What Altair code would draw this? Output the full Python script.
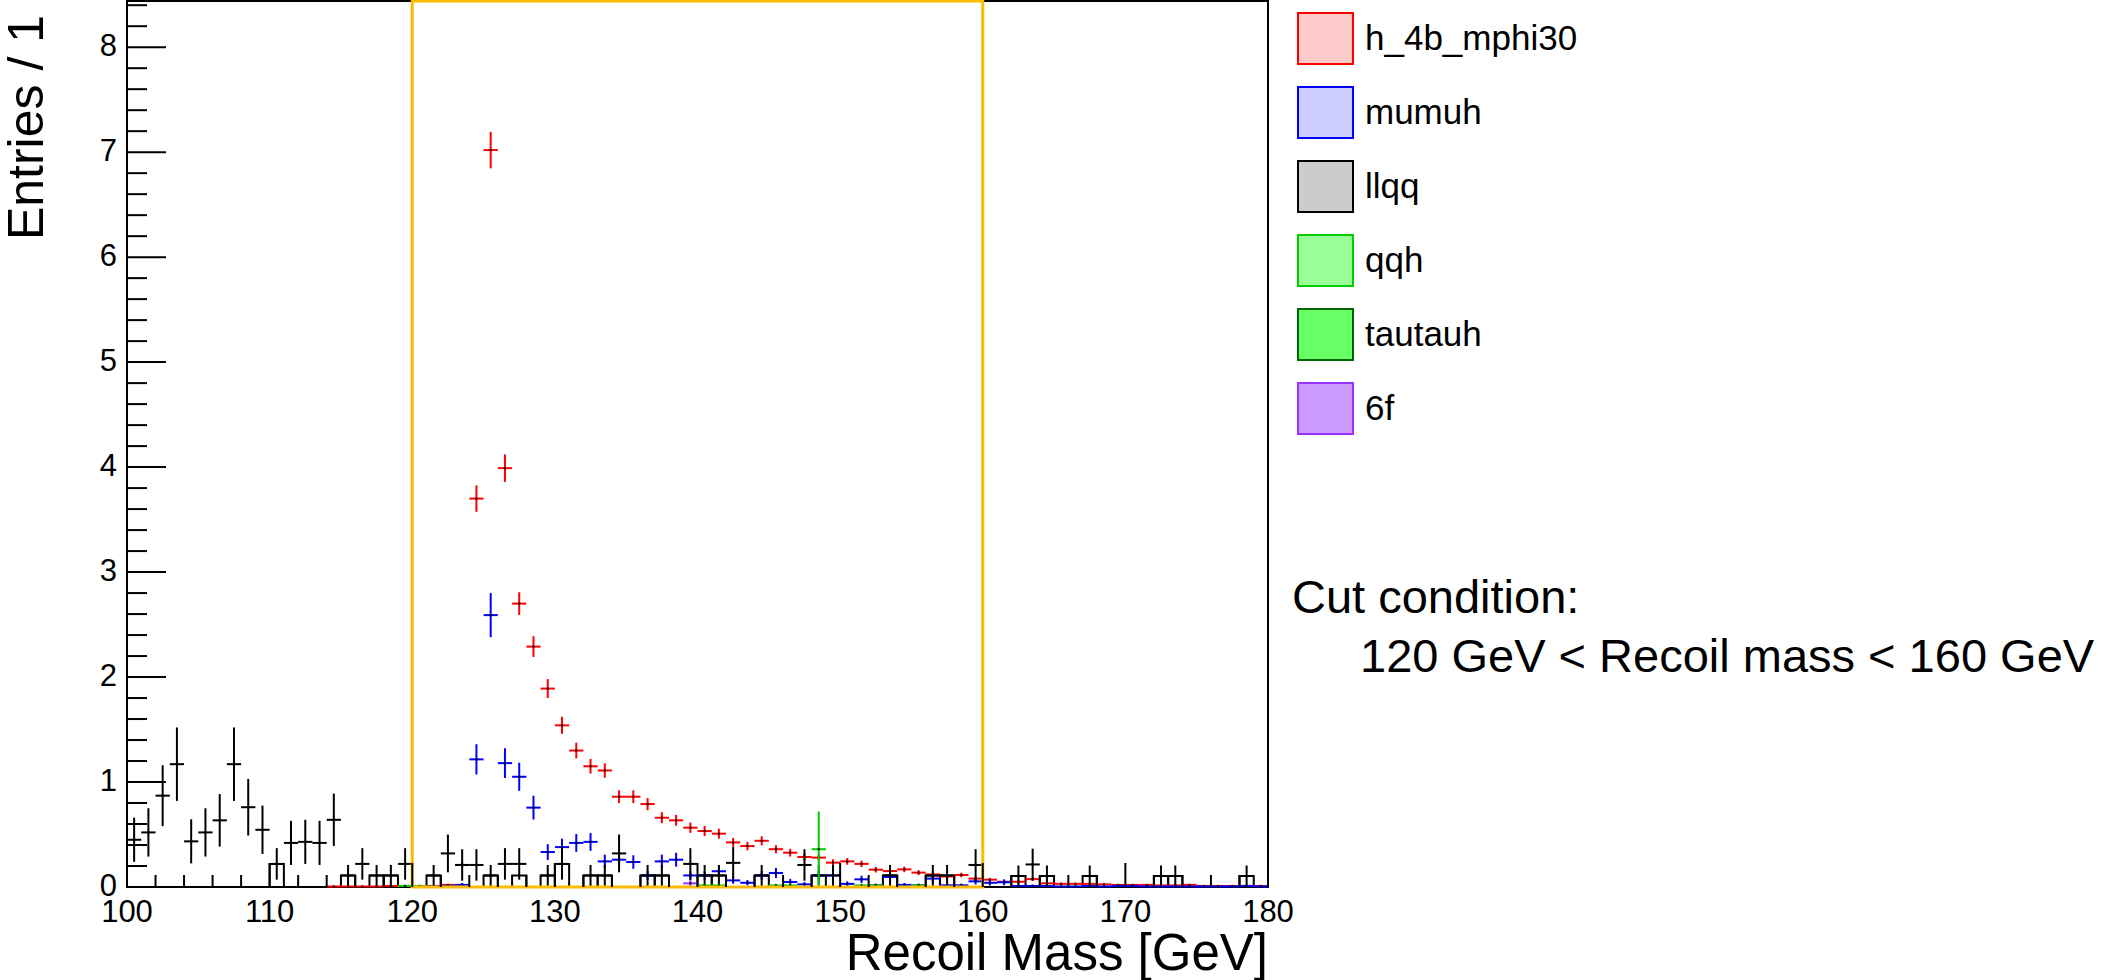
import altair as alt
import pandas as pd

# ---- binning: 1 GeV bins from 100 to 180 GeV ----
bin_low = list(range(100, 180))

# ---- per-bin contents (weighted entries) and their errors ----
h_4b_mphi30 = [
    0, 0, 0, 0, 0, 0, 0, 0, 0, 0,
    0, 0, 0, 0, 0.005, 0.005, 0.005, 0.005, 0.01, 0.01,
    0.01, 0.01, 0.02, 0.21, 3.70, 7.02, 3.99, 2.70, 2.29, 1.89,
    1.54, 1.30, 1.15, 1.11, 0.86, 0.86, 0.79, 0.66, 0.635, 0.565,
    0.533, 0.508, 0.425, 0.39, 0.44, 0.36, 0.327, 0.286, 0.28, 0.232,
    0.244, 0.22, 0.165, 0.152, 0.168, 0.137, 0.12, 0.10, 0.114, 0.08,
    0.07, 0.05, 0.05, 0.075, 0.035, 0.03, 0.03, 0.03, 0.025, 0.02,
    0.02, 0.02, 0.015, 0.015, 0.02, 0.01, 0.01, 0.01, 0.01, 0.01,
]
h_4b_mphi30_err = [
    0, 0, 0, 0, 0, 0, 0, 0, 0, 0,
    0, 0, 0, 0, 0.005, 0.005, 0.005, 0.005, 0.007, 0.007,
    0.007, 0.007, 0.009, 0.030, 0.126, 0.174, 0.131, 0.108, 0.099, 0.090,
    0.081, 0.075, 0.070, 0.069, 0.061, 0.061, 0.058, 0.053, 0.052, 0.049,
    0.048, 0.047, 0.043, 0.041, 0.043, 0.039, 0.037, 0.035, 0.035, 0.032,
    0.032, 0.031, 0.027, 0.026, 0.027, 0.024, 0.023, 0.021, 0.022, 0.019,
    0.017, 0.015, 0.015, 0.018, 0.012, 0.011, 0.011, 0.011, 0.010, 0.009,
    0.009, 0.009, 0.008, 0.008, 0.009, 0.007, 0.007, 0.007, 0.007, 0.007,
]

mumuh = [
    0, 0, 0, 0, 0, 0, 0, 0, 0, 0,
    0, 0, 0, 0, 0, 0, 0, 0, 0, 0,
    0.005, 0.005, 0.01, 0.02, 1.216, 2.59, 1.18, 1.05, 0.756, 0.333,
    0.38, 0.42, 0.43, 0.244, 0.26, 0.238, 0.11, 0.244, 0.26, 0.11,
    0.11, 0.15, 0.063, 0.04, 0.11, 0.133, 0.048, 0.025, 0.11, 0.11,
    0.03, 0.073, 0.016, 0.095, 0.02, 0.016, 0.08, 0.016, 0.016, 0.054,
    0.04, 0.045, 0.01, 0.01, 0.01, 0.005, 0.005, 0.01, 0.005, 0.01,
    0.01, 0.005, 0.005, 0.005, 0.005, 0.005, 0.005, 0.005, 0.01, 0.005,
]
mumuh_err = [
    0, 0, 0, 0, 0, 0, 0, 0, 0, 0,
    0, 0, 0, 0, 0, 0, 0, 0, 0, 0,
    0.009, 0.009, 0.013, 0.018, 0.144, 0.210, 0.142, 0.134, 0.113, 0.075,
    0.080, 0.085, 0.085, 0.064, 0.066, 0.064, 0.043, 0.064, 0.066, 0.043,
    0.043, 0.050, 0.033, 0.026, 0.043, 0.048, 0.029, 0.021, 0.043, 0.043,
    0.023, 0.035, 0.016, 0.040, 0.018, 0.016, 0.037, 0.016, 0.016, 0.030,
    0.026, 0.028, 0.013, 0.013, 0.013, 0.009, 0.009, 0.013, 0.009, 0.013,
    0.013, 0.009, 0.009, 0.009, 0.009, 0.009, 0.009, 0.009, 0.013, 0.009,
]

llqq = [
    0.45, 0.52, 0.87, 1.17, 0.435, 0.52, 0.635, 1.17, 0.76, 0.545,
    0.22, 0.42, 0.43, 0.42, 0.64, 0.11, 0.22, 0.11, 0.11, 0.22,
    0, 0.11, 0.32, 0.21, 0.21, 0.11, 0.22, 0.22, 0, 0.11,
    0.22, 0, 0.11, 0.11, 0.32, 0, 0.11, 0.11, 0, 0.22,
    0.11, 0.11, 0.23, 0, 0.11, 0, 0, 0.21, 0.11, 0.11,
    0, 0, 0, 0.11, 0, 0, 0.11, 0.11, 0, 0.21,
    0, 0, 0.105, 0.215, 0.105, 0, 0, 0.105, 0, 0,
    0, 0, 0.105, 0.105, 0, 0, 0, 0, 0.105, 0,
]
llqq_err = [
    0.21, 0.23, 0.29, 0.35, 0.21, 0.23, 0.25, 0.35, 0.27, 0.23,
    0.15, 0.21, 0.21, 0.21, 0.25, 0.10, 0.15, 0.10, 0.10, 0.15,
    0, 0.10, 0.18, 0.15, 0.15, 0.10, 0.15, 0.15, 0, 0.10,
    0.15, 0, 0.10, 0.10, 0.18, 0, 0.10, 0.10, 0, 0.15,
    0.10, 0.10, 0.15, 0, 0.10, 0, 0, 0.15, 0.10, 0.10,
    0, 0, 0, 0.10, 0, 0, 0.10, 0.10, 0, 0.15,
    0, 0, 0.10, 0.15, 0.10, 0, 0, 0.10, 0, 0,
    0, 0, 0.10, 0.10, 0, 0, 0, 0, 0.10, 0,
]
# single-entry llqq bins also drawn as an outlined histogram
llqq_hist = [
    0, 0, 0, 0, 0, 0, 0, 0, 0, 0,
    0.22, 0, 0, 0, 0, 0.11, 0, 0.11, 0.11, 0,
    0, 0.11, 0, 0, 0, 0.11, 0, 0.11, 0, 0.11,
    0.22, 0, 0.11, 0.11, 0, 0, 0.11, 0.11, 0, 0,
    0.11, 0.11, 0, 0, 0.11, 0, 0, 0, 0.11, 0,
    0, 0, 0, 0.11, 0, 0, 0.11, 0.11, 0, 0,
    0, 0, 0.105, 0, 0.105, 0, 0, 0.105, 0, 0,
    0, 0, 0.105, 0.105, 0, 0, 0, 0, 0.105, 0,
]

qqh = [0.0] * 80
qqh_err = [0.0] * 80
for b, v, e in [(119, 0.01, 0.01), (120, 0.01, 0.01), (140, 0.015, 0.015),
                (141, 0.015, 0.015), (145, 0.015, 0.015), (146, 0.015, 0.015),
                (148, 0.36, 0.36), (151, 0.015, 0.015), (152, 0.015, 0.015),
                (155, 0.015, 0.015)]:
    qqh[b - 100] = v
    qqh_err[b - 100] = e

tautauh = [0.0] * 80
tautauh_err = [0.0] * 80

six_f = [0.0] * 80
six_f_err = [0.0] * 80
six_f[139 - 100] = 0.035
six_f_err[139 - 100] = 0.03

# ---- legend / sample styling ----
samples = ["h_4b_mphi30", "mumuh", "llqq", "qqh", "tautauh", "6f"]
line_colors = ["#ff0000", "#0000ff", "#000000", "#00cc00", "#006600", "#9933ff"]
fill_colors = ["#ffcccc", "#ccccff", "#cccccc", "#99ff99", "#66ff66", "#cc99ff"]

series = [
    ("h_4b_mphi30", h_4b_mphi30, h_4b_mphi30_err),
    ("mumuh", mumuh, mumuh_err),
    ("llqq", llqq, llqq_err),
    ("qqh", qqh, qqh_err),
    ("tautauh", tautauh, tautauh_err),
    ("6f", six_f, six_f_err),
]

# recoil-mass window
cut_low, cut_high = 120, 160

# axis range, ticks and titles
x_min, x_max = 100, 180
y_max = 8.44
x_major = list(range(100, 181, 10))
x_minor = [v for v in range(100, 181, 2) if v % 10]
y_major = list(range(0, 9))
y_minor = [round(i * 0.2, 1) for i in range(0, 43) if i % 5]
x_title = "Recoil Mass [GeV]"
y_title = "Entries / 1"

W, H = 1141, 886
FONT = "Liberation Sans"

x_scale = alt.Scale(domain=[x_min, x_max], nice=False, zero=False)
y_scale = alt.Scale(domain=[0, y_max], nice=False, zero=True)


def X(field):
    return alt.X(field, scale=x_scale, axis=None)


def Y(field):
    return alt.Y(field, scale=y_scale, axis=None)


def points_frame(values, errors):
    rows = []
    for lo, v, e in zip(bin_low, values, errors):
        if v > 0 or e > 0:
            rows.append({"lo": lo, "hi": lo + 1, "mid": lo + 0.5, "val": v,
                         "low": max(v - e, 0.0), "high": v + e})
    return pd.DataFrame(rows, columns=["lo", "hi", "mid", "val", "low", "high"])


layers = []

# outlined llqq histogram (drawn first, under the error crosses)
hist_df = pd.DataFrame({"lo": bin_low, "hi": [b + 1 for b in bin_low], "val": llqq_hist})
hist_df = hist_df[hist_df["val"] > 0]
layers.append(
    alt.Chart(hist_df).mark_rect(fillOpacity=0, stroke="black", strokeWidth=2).encode(
        x=X("lo:Q"), x2="hi:Q", y=Y("val:Q"), y2=alt.datum(0)
    )
)

# error crosses for each sample
for (name, vals, errs), col in zip(series, line_colors):
    df = points_frame(vals, errs)
    if df.empty:
        continue
    base = alt.Chart(df)
    vert = base.mark_rule(strokeWidth=2).encode(
        x=X("mid:Q"), y=Y("low:Q"), y2="high:Q", color=alt.value(col))
    horiz = base.mark_rule(strokeWidth=2).encode(
        x=X("lo:Q"), x2="hi:Q", y=Y("val:Q"), color=alt.value(col))
    dot = base.mark_square(size=4, color="black", opacity=1).encode(
        x=X("mid:Q"), y=Y("val:Q"))
    layers += [vert, horiz, dot]

# cut window box
box_df = pd.DataFrame({"lo": [cut_low], "hi": [cut_high], "ylo": [0.0], "yhi": [y_max]})
layers.append(
    alt.Chart(box_df).mark_rect(fillOpacity=0, stroke="#ffbb00", strokeWidth=3).encode(
        x=X("lo:Q"), x2="hi:Q", y=Y("ylo:Q"), y2="yhi:Q")
)

# inward ticks
rule = dict(color="black", strokeWidth=2)
layers += [
    alt.Chart(pd.DataFrame({"v": y_major})).mark_rule(**rule).encode(
        y=Y("v:Q"), x=alt.value(0), x2=alt.value(39)),
    alt.Chart(pd.DataFrame({"v": y_minor})).mark_rule(**rule).encode(
        y=Y("v:Q"), x=alt.value(0), x2=alt.value(20)),
    alt.Chart(pd.DataFrame({"v": x_major})).mark_rule(**rule).encode(
        x=X("v:Q"), y=alt.value(H), y2=alt.value(H - 24)),
    alt.Chart(pd.DataFrame({"v": x_minor})).mark_rule(**rule).encode(
        x=X("v:Q"), y=alt.value(H), y2=alt.value(H - 12)),
]

# tick labels
layers += [
    alt.Chart(pd.DataFrame({"v": x_major})).mark_text(
        font=FONT, fontSize=31, align="center", baseline="top", color="black"
    ).encode(x=X("v:Q"), y=alt.value(H + 11), text=alt.Text("v:Q", format="d")),
    alt.Chart(pd.DataFrame({"v": y_major})).mark_text(
        font=FONT, fontSize=31, align="right", baseline="middle", color="black"
    ).encode(y=Y("v:Q"), x=alt.value(-10), text=alt.Text("v:Q", format="d")),
]

# axis titles
layers += [
    alt.Chart(pd.DataFrame({"t": [x_title]})).mark_text(
        font=FONT, fontSize=51, align="right", baseline="alphabetic", color="black"
    ).encode(text="t:N", x=alt.value(W), y=alt.value(969)),
    alt.Chart(pd.DataFrame({"t": [y_title]})).mark_text(
        font=FONT, fontSize=50, align="right", baseline="alphabetic", angle=270,
        color="black"
    ).encode(text="t:N", x=alt.value(-84), y=alt.value(14)),
]

# legend entries (filled boxes with coloured borders)
legend_df = pd.DataFrame({"entry": samples})
legend_cfg = dict(
    title=None, orient="none", legendX=1172, legendY=11, direction="vertical",
    symbolType="M-1.078,-1H1.078V1H-1.078Z", symbolSize=2601, symbolStrokeWidth=2,
    labelFont=FONT, labelFontSize=35, labelColor="black", labelOffset=13,
    rowPadding=15, padding=0, labelLimit=0, symbolLimit=0,
)
layers.append(
    alt.Chart(legend_df).mark_rect(strokeWidth=2).encode(
        x=alt.value(0), x2=alt.value(0), y=alt.value(0), y2=alt.value(0),
        fill=alt.Fill("entry:N", scale=alt.Scale(domain=samples, range=fill_colors),
                      legend=alt.Legend(**legend_cfg)),
        stroke=alt.Stroke("entry:N", scale=alt.Scale(domain=samples, range=line_colors),
                          legend=alt.Legend(**legend_cfg)),
    )
)

# cut description
cut_title = "Cut condition:"
cut_text = f"{cut_low} GeV < Recoil mass < {cut_high} GeV"
layers.append(
    alt.Chart(pd.DataFrame({"t": [cut_title]})).mark_text(
        align="left", baseline="alphabetic", font=FONT, fontSize=47, color="black"
    ).encode(text="t:N", x=alt.value(1165), y=alt.value(612))
)
layers.append(
    alt.Chart(pd.DataFrame({"t": [cut_text]})).mark_text(
        align="left", baseline="alphabetic", font=FONT, fontSize=47, color="black"
    ).encode(text="t:N", x=alt.value(1233), y=alt.value(671))
)

chart = (
    alt.layer(*layers)
    .properties(
        width=W, height=H,
        padding={"left": 127, "top": 1, "right": 2108 - 127 - W, "bottom": 980 - 1 - H},
        autosize=alt.AutoSizeParams(type="none"),
        background="white",
    )
    .configure(font=FONT)
    .configure_view(stroke="black", strokeWidth=2)
)

chart.save("out.html", embed_options={"renderer": "svg", "actions": False})
